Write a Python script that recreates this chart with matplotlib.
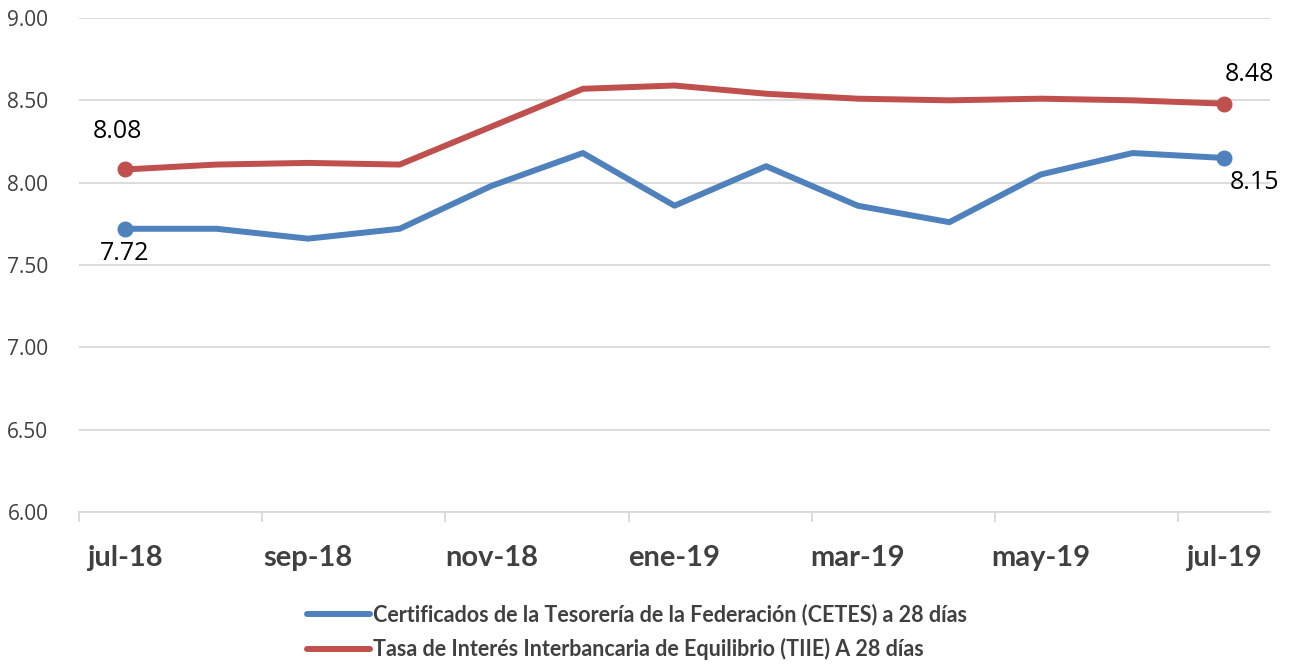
import matplotlib.pyplot as plt
from matplotlib.ticker import FixedLocator

meses = ['jul-18', 'ago-18', 'sep-18', 'oct-18', 'nov-18', 'dic-18', 'ene-19',
         'feb-19', 'mar-19', 'abr-19', 'may-19', 'jun-19', 'jul-19']
cetes = [7.72, 7.72, 7.66, 7.72, 7.98, 8.18, 7.86, 8.10, 7.86, 7.76, 8.05, 8.18, 8.15]
tiie = [8.08, 8.11, 8.12, 8.11, 8.34, 8.57, 8.59, 8.54, 8.51, 8.50, 8.51, 8.50, 8.48]

lbl_cetes = 'Certificados de la Tesorería de la Federación (CETES) a 28 días'
lbl_tiie = 'Tasa de Interés Interbancaria de Equilibrio (TIIE) A 28 días'

azul = '#4F81BD'
rojo = '#C0504D'
gris = '#D9D9D9'

plt.rcParams['font.family'] = ['Lato', 'DejaVu Sans']
num_font = ['Open Sans', 'DejaVu Sans']

fig = plt.figure(figsize=(13, 6.66), dpi=100)
ax = fig.add_axes([79 / 1300, 1 - 512 / 666, (1270 - 79) / 1300, (512 - 18) / 666])

x = list(range(len(meses)))
ax.plot(x, cetes, color=azul, lw=4.3, solid_capstyle='round', label=lbl_cetes, zorder=3)
ax.plot(x, tiie, color=rojo, lw=4.3, solid_capstyle='round', label=lbl_tiie, zorder=3)

# marcadores en extremos
for serie, c in [(cetes, azul), (tiie, rojo)]:
    ax.plot([x[0], x[-1]], [serie[0], serie[-1]], 'o', color=c, ms=10.5, zorder=4)

# etiquetas de datos
fs = 18
ax.annotate(f'{tiie[0]:.2f}', (x[0], tiie[0]), xytext=(-5, 18), textcoords='offset points',
            ha='center', va='bottom', fontsize=fs, family=num_font)
ax.annotate(f'{cetes[0]:.2f}', (x[0], cetes[0]), xytext=(0, -9), textcoords='offset points',
            ha='center', va='top', fontsize=fs, family=num_font)
ax.annotate(f'{tiie[-1]:.2f}', (x[-1], tiie[-1]), xytext=(18, 12), textcoords='offset points',
            ha='center', va='bottom', fontsize=fs, family=num_font)
ax.annotate(f'{cetes[-1]:.2f}', (x[-1], cetes[-1]), xytext=(22, -9), textcoords='offset points',
            ha='center', va='top', fontsize=fs, family=num_font)

ax.set_xlim(-0.5, len(meses) - 0.5)
ax.set_ylim(6, 9)
ax.set_yticks([6.0, 6.5, 7.0, 7.5, 8.0, 8.5, 9.0])
ax.set_yticklabels([f'{v:.2f}' for v in ax.get_yticks()], fontsize=15, color='#404040',
                   family=num_font)
ax.grid(axis='y', color=gris, lw=1.3, zorder=0)

ax.set_xticks(x[::2])
ax.set_xticklabels(meses[::2], fontsize=21, fontweight='bold', color='#404040')
ax.xaxis.set_minor_locator(FixedLocator([i - 0.5 for i in range(0, len(meses), 2)]))
ax.tick_params(axis='x', which='major', length=0, pad=24)
ax.tick_params(axis='x', which='minor', length=7, width=1.3, color=gris)
ax.tick_params(axis='y', length=0, pad=22)

for s in ['top', 'right', 'left']:
    ax.spines[s].set_visible(False)
ax.spines['bottom'].set_color(gris)
ax.spines['bottom'].set_linewidth(1.3)

leg = fig.legend(loc='upper center', bbox_to_anchor=(0.49, 1 - 584 / 666), ncol=1,
                 frameon=False, handlelength=2.9, handletextpad=0.15,
                 labelspacing=0.6, prop={'weight': 'bold', 'size': 15.5})
for t in leg.get_texts():
    t.set_color('#404040')

fig.savefig('out.png', dpi=100)
